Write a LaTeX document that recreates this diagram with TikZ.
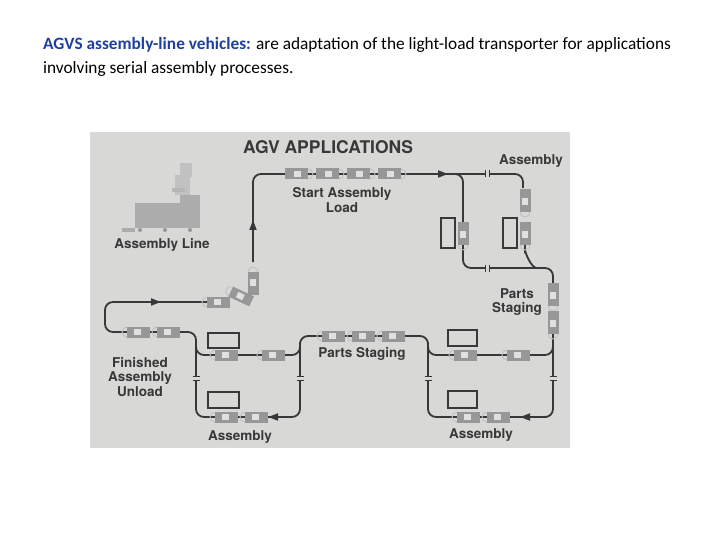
\documentclass[tikz,border=0pt]{standalone}
\usepackage{fontspec}
\setmainfont{Carlito}
\newfontfamily\lab{TeX Gyre Heros}
\usetikzlibrary{arrows.meta}
\definecolor{bg}{HTML}{D8D8D6}
\definecolor{trk}{HTML}{383838}
\definecolor{vf}{HTML}{979797}
\definecolor{hb}{HTML}{1F3F9F}
\tikzset{track/.style={draw=trk,line width=1.8pt,rounded corners=8pt},
 lbl/.style={font=\lab\bfseries\fontsize{13.5}{14.5}\selectfont,text=trk,align=center,inner sep=0},
 stat/.style={draw=trk,line width=1.1pt,fill=bg},
 arr/.style={draw=trk,line width=1.8pt,-{Triangle[length=10pt,width=7pt]}}}
\newcommand\veh[3]{\begin{scope}[shift={(#1,#2)},rotate=#3]
 \fill[vf] (-15,-5.5) rectangle (8,5.5);
 \fill[white!70!vf] (-6,-3) rectangle (1,3);
 \draw[white!40!vf,line width=0.9pt] (8,-5) arc(-90:90:5);
 \end{scope}}
\newcommand\brkh[2]{\fill[bg] (#1-2,#2-3.5) rectangle (#1+2,#2+3.5);
 \draw[trk,line width=0.7pt] (#1-2,#2-3.5)--(#1-2,#2+3.5) (#1+2,#2-3.5)--(#1+2,#2+3.5);}
\newcommand\brkv[2]{\fill[bg] (#1-3.5,#2-2) rectangle (#1+3.5,#2+2);
 \draw[trk,line width=0.7pt] (#1-3.5,#2-2)--(#1+3.5,#2-2) (#1-3.5,#2+2)--(#1+3.5,#2+2);}
\begin{document}
\begin{tikzpicture}[x=1pt,y=-1pt]
\useasboundingbox (0,0) rectangle (720,540);
\node[anchor=west,inner sep=0,font=\fontsize{17.3}{20}\selectfont] at (43,45) {\textcolor{hb}{\bfseries AGVS assembly-line vehicles:} are adaptation of the light-load transporter for applications};
\node[anchor=west,inner sep=0,font=\fontsize{17.3}{20}\selectfont] at (43,69) {involving serial assembly processes.};
\fill[bg] (90,132) rectangle (570,448);
% assembly line machine
\fill[vf!80!white] (135,203) rectangle (200,228);
\fill[vf!80!white] (180,195) rectangle (200,228);
\fill[vf!80!white] (122,228) rectangle (135,232);
\fill[vf!60!white] (175,175) rectangle (190,195);
\fill[vf!70!white] (172,188) rectangle (185,192);
\fill[vf!60!white] (180,163) rectangle (192,177);
\fill[vf] (140,230) circle (2) (165,230) circle (2) (190,230) circle (2);
% tracks
\path[track] (253,262) -- (253,174) -- (523,174) -- (523,188);
\path[track] (440,174) -| (463,225);
\path[track] (463,245) |- (553,268) -- (553,288);
\path[track] (525,245) -- (525,258) to[out=90,in=180] (537,268);
\path[track] (553,330) -- (553,417) -- (428,417) -- (428,336) -- (300,336) -- (300,417) -- (196,417) -- (196,332) -- (105,332) -- (105,302) -- (215,302);
\path[track] (553,342) |- (428,355) -- (428,342);
\path[track] (300,342) |- (196,355) -- (196,342);
\draw[arr] (253,245) -- (253,220);
\draw[arr] (420,174) -- (448,174);
\draw[arr] (130,302) -- (161,302);
\draw[arr] (292,417) -- (268,417);
\draw[arr] (547,417) -- (520,417);
\brkh{487}{174}\brkh{487}{268}
\brkv{553}{378}\brkv{428}{378}\brkv{300}{378}\brkv{196}{378}
% vehicles
\veh{300}{174}{0}\veh{331}{174}{0}\veh{362}{174}{0}\veh{393}{174}{0}
\veh{525}{204}{-90}\veh{525}{237}{-90}\veh{463}{237}{-90}
\veh{553}{298}{-90}\veh{553}{326}{-90}
\veh{253}{280}{90}\veh{238}{295}{155}\veh{215}{302}{180}
\veh{135}{332}{180}\veh{165}{332}{180}
\veh{223}{355}{180}\veh{270}{355}{180}
\veh{330}{336}{180}\veh{360}{336}{180}\veh{390}{336}{180}
\veh{462}{355}{180}\veh{515}{355}{180}
\veh{223}{417}{180}\veh{253}{417}{180}
\veh{465}{417}{180}\veh{495}{417}{180}
% stations
\draw[stat] (441,218) rectangle (455,248);
\draw[stat] (503,218) rectangle (517,248);
\draw[stat] (208,333) rectangle (239,348);
\draw[stat] (208,392) rectangle (239,408);
\draw[stat] (448,330) rectangle (477,346);
\draw[stat] (448,391) rectangle (477,408);
% labels
\node[lbl,font=\lab\bfseries\fontsize{17.5}{19}\selectfont] at (328,147) {AGV APPLICATIONS};
\node[lbl] at (531,161) {Assembly};
\node[lbl] at (342,200) {Start Assembly\\Load};
\node[lbl] at (162,245) {Assembly Line};
\node[lbl] at (517,302) {Parts\\Staging};
\node[lbl] at (140,377) {Finished\\Assembly\\Unload};
\node[lbl] at (362,354) {Parts Staging};
\node[lbl] at (240,437) {Assembly};
\node[lbl] at (481,435) {Assembly};
\end{tikzpicture}
\end{document}
